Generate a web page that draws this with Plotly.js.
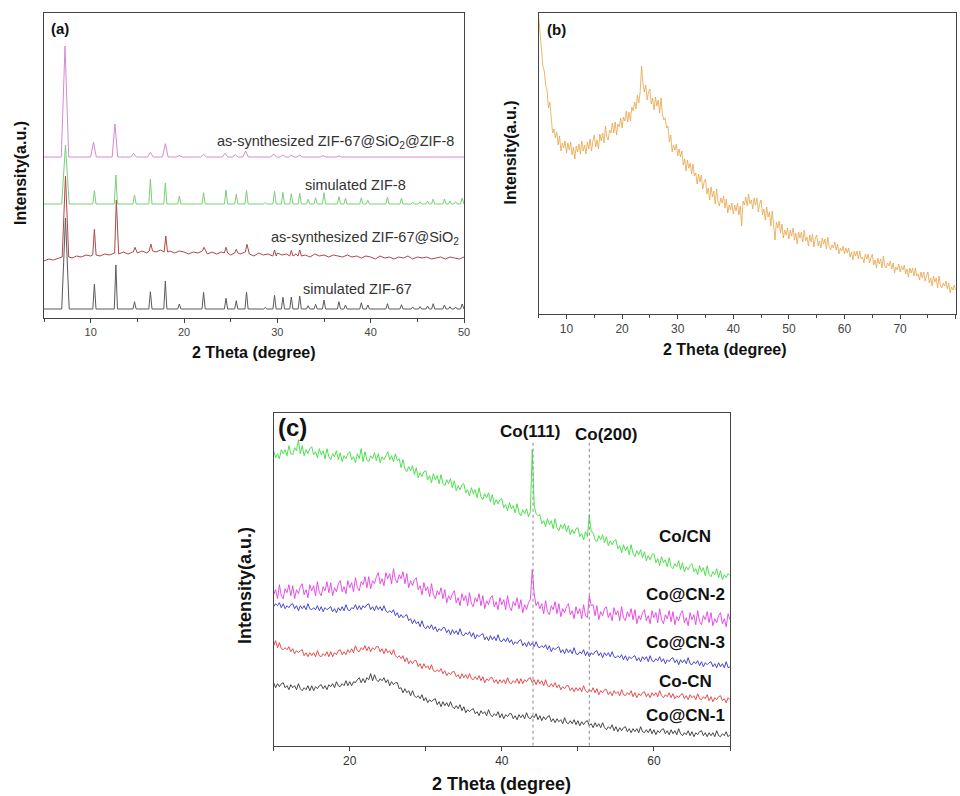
<!DOCTYPE html>
<html>
<head>
<meta charset="utf-8">
<script src="https://cdn.plot.ly/plotly-3.0.1.min.js"></script>
<style>html,body{margin:0;padding:0;background:#fff;}#chart{width:960px;height:796px;}</style>
</head>
<body>
<div id="chart"></div>
<script>
// ---------- Panel (a) data ----------
const aPeakPos = [7.3,10.4,12.7,14.7,16.4,18.0,19.5,22.1,24.5,25.6,26.7,28.7,29.7,30.6,31.5,32.4,33.3,34.1,35.0,36.6,37.3,39.0,39.7,41.8,43.3,44.5,45.3,46.1,46.7,47.9,48.5,49.1,49.8];
const zif67Base = 9;
const zif67Tops = [100,34,53,16.3,26.3,37,14,25.7,19.7,17.3,26,10.5,22.7,20.7,21,22,12.3,13.7,18,16.3,13,15.3,13,14.3,13.3,11,11.3,12,14.3,13,11.3,11,14];
const zif8Base = 114;
const zif8Tops = [173,127.3,143,123,138.7,135,122,125.3,128,123.7,127.7,115.5,126.7,125.7,124.3,124.7,118.7,120.3,125.3,121.3,119.7,120.3,117.7,121,119.7,116,116.3,117,119,119,117,116.3,120];
const shellBase = 161;
const shellPos = [7.25,10.3,12.6,14.6,16.4,18.0,19.5,22.1,24.4,25.5,26.6,29.6,30.6,31.5,32.4,34.9,36.6];
const shellTops = [272,176,194,164.7,165.7,174.3,162.5,163.7,164.7,163.3,167,164,163,162.7,163,162.3,162];
const sio2Start = 5, sio2Step = 0.5;
const sio2Base = [57,59,58,60,59,61,60,62,61,63,
  62,63,62,64,63,65,64,66,64,66,
  65,67,65,67,66,68,66,67,65,67,
  66,64,66,65,67,64,66,64,66,65,
  63,65,64,66,64,62,65,63,64,62,
  65,63,64,62,64,62,63,61,64,62,
  63,61,63,62,61,63,61,62,60,62,
  61,59,62,60,61,59,61,60,62,59,
  61,60,61,59,60,61,59,61,60,59,
  61];
const sio2PeakPos = [7.3,10.4,12.75,14.75,16.45,18.05,22.15,24.5,25.6,26.75,29.7,31.5,32.4];
const sio2Tops = [142,88.7,118,70.7,74,82,70.7,70.7,68.7,73.7,68,67.5,68];
const aLabels = ['as-synthesized ZIF-67@SiO<sub>2</sub>@ZIF-8','simulated ZIF-8','as-synthesized ZIF-67@SiO<sub>2</sub>','simulated ZIF-67'];

// ---------- Panel (b) data (5° to 80°, every 0.25°) ----------
const bStart = 5, bStep = 0.25;
const bValues = [297,280,267,248,243,229,224,206,212,192,181,185,176,182,169,178,163,171,166,173,
  161,171,164,172,159,167,155,168,162,170,160,173,163,169,160,172,165,175,163,173,
  179,167,174,165,180,173,181,171,188,177,174,184,181,191,181,192,179,190,187,196,
  186,197,193,203,192,202,193,207,203,212,205,219,211,222,248,230,222,229,214,222,
  225,210,216,204,217,208,214,201,216,200,194,196,186,188,172,179,162,169,164,170,
  158,165,157,163,149,155,143,154,146,151,140,150,138,141,130,140,132,139,125,132,
  135,120,126,114,127,117,123,110,125,112,108,116,111,118,106,115,101,109,104,111,
  100,109,103,111,99,108,88,113,109,117,108,120,110,114,105,116,109,116,102,110,
  114,99,105,94,107,97,102,88,103,89,74,92,86,93,81,90,76,84,79,86,
  75,84,78,86,74,81,70,82,76,82,72,84,73,77,68,79,72,80,67,76,
  79,68,73,66,76,70,75,65,77,67,64,69,66,72,64,70,60,66,63,68,
  60,66,61,66,57,62,54,63,58,63,55,63,55,57,51,60,55,60,51,56,
  60,49,54,46,56,50,55,46,58,48,46,51,48,53,45,51,41,47,44,50,
  42,48,44,49,40,45,37,46,41,46,38,46,38,40,34,42,36,42,33,38,
  42,31,36,28,38,32,36,26,38,28,26,31,28,33,25,31,21,27,24,29,
  24];

// ---------- Panel (c) data (10° to 70°, every 0.25°) ----------
const cStart = 10, cStep = 0.25;
const cNames = ['Co/CN','Co@CN-2','Co@CN-3','Co-CN','Co@CN-1'];
const coCN = [295,288,292,287,296,292,296,290,300,292,
  291,298,295,306,292,300,290,296,292,297,
  299,291,294,288,297,291,295,287,297,289,
  286,292,289,295,286,293,284,290,287,292,
  294,286,289,283,292,287,297,284,294,286,
  284,290,287,293,285,292,283,289,286,291,
  294,286,290,284,292,285,287,278,286,277,
  274,279,275,280,271,278,268,273,269,274,
  275,266,270,263,272,266,270,262,271,262,
  260,266,262,267,258,265,255,260,256,261,
  262,253,256,250,258,252,256,248,258,249,
  246,252,248,253,244,251,241,246,242,246,
  247,238,241,235,243,237,240,233,242,233,
  230,236,232,237,229,234,296,240,232,230,
  231,222,225,219,227,221,225,217,227,218,
  215,221,217,222,214,220,211,216,212,217,
  218,209,212,206,214,209,231,214,213,206,
  204,210,206,211,203,209,200,205,201,205,
  206,197,200,193,201,195,199,191,201,192,
  189,195,191,196,188,194,185,190,186,191,
  192,183,187,180,189,183,186,179,188,179,
  177,182,179,185,176,183,174,179,176,180,
  182,174,177,171,180,174,178,170,180,171,
  169,174,171,177,168,175,166,171,168,172,
  170];
const coAtCN2 = [151,156,147,161,150,147,157,153,161,150,
  160,147,156,152,159,162,151,156,148,161,
  155,160,150,164,153,150,159,155,164,153,
  163,150,158,154,162,165,154,159,152,165,
  158,163,154,168,158,155,164,161,169,158,
  169,157,165,162,169,173,162,167,160,173,
  167,172,162,177,166,163,171,167,174,162,
  172,158,165,160,166,168,156,160,151,163,
  155,159,149,162,151,147,155,151,158,147,
  156,143,150,146,152,155,143,148,140,152,
  145,150,140,153,142,139,148,144,152,140,
  150,137,145,141,148,150,139,144,136,148,
  141,146,136,150,139,135,144,140,148,137,
  146,133,141,136,143,146,176,152,140,144,
  137,142,132,145,134,131,140,136,144,132,
  142,129,137,133,139,142,131,135,127,139,
  132,137,127,141,130,128,150,140,141,130,
  140,126,134,130,137,139,128,133,125,138,
  131,135,125,139,128,125,134,129,137,126,
  136,122,130,126,133,136,125,130,122,135,
  128,133,123,137,126,122,131,127,135,124,
  134,121,129,125,132,135,123,128,120,133,
  126,131,121,135,124,121,130,126,134,123,
  133,120,127,123,130,133,122,127,119,132,
  126];
const coAtCN3 = [139,142,140,143,138,142,137,140,138,141,
  142,137,140,135,140,137,140,136,142,137,
  136,138,136,140,135,139,134,138,136,138,
  139,134,137,133,138,135,139,135,141,136,
  135,138,137,141,136,140,136,140,138,141,
  142,136,139,135,140,136,139,135,140,135,
  133,135,133,136,130,133,128,131,128,130,
  131,125,127,122,126,122,124,119,125,119,
  117,120,117,121,116,119,114,117,115,118,
  118,113,116,111,116,112,115,111,117,111,
  110,113,111,114,109,113,107,111,109,111,
  112,106,109,105,110,106,109,105,111,105,
  104,107,104,108,103,106,101,104,102,105,
  106,100,103,99,104,100,103,99,104,99,
  98,100,98,101,96,100,94,98,96,98,
  99,93,96,92,97,93,96,92,98,92,
  91,94,92,96,90,94,89,93,91,94,
  95,90,93,88,93,90,93,89,94,89,
  88,90,88,91,86,90,85,89,87,89,
  90,85,88,84,89,86,89,84,90,85,
  84,87,85,89,84,87,82,86,84,87,
  88,83,86,81,86,83,86,82,88,82,
  81,84,82,85,80,84,79,83,81,83,
  84,79,82,78,83,79,82,78,84,78,
  79];
const coDashCN = [100,105,98,103,97,96,98,96,99,94,
  97,92,95,93,95,96,90,93,89,93,
  90,93,89,95,90,89,92,90,94,89,
  94,89,93,91,95,96,91,94,91,96,
  93,97,93,100,95,94,98,96,100,95,
  99,94,98,96,99,99,94,97,92,97,
  93,95,91,96,90,88,90,87,90,84,
  88,82,85,82,85,85,79,82,77,82,
  78,80,76,81,75,74,76,74,77,72,
  75,70,73,71,74,74,69,71,67,72,
  68,71,67,72,67,66,69,66,70,65,
  69,63,67,65,68,68,63,66,62,66,
  63,66,62,68,63,62,65,63,67,62,
  67,62,66,64,67,68,63,66,61,66,
  62,65,60,66,60,59,62,59,63,58,
  61,56,59,57,60,60,55,58,54,58,
  55,58,54,60,55,53,56,54,58,53,
  57,51,55,53,56,56,51,54,50,55,
  52,54,50,56,51,50,53,51,55,49,
  53,48,52,50,53,54,49,52,48,53,
  50,53,49,55,50,48,51,49,53,48,
  52,47,50,48,51,52,47,50,46,51,
  48,50,46,52,47,46,49,47,51,45,
  49,44,48,46,49,50,45,47,43,48,
  46];
const coAtCN1 = [63,58,62,59,62,63,58,60,56,61,
  58,60,56,62,57,55,58,56,60,55,
  60,55,59,57,60,61,57,60,56,61,
  59,62,58,64,60,59,62,60,65,60,
  64,60,64,63,66,68,63,67,63,68,
  66,72,65,71,66,64,67,65,68,63,
  66,60,64,61,63,63,57,58,53,57,
  53,55,50,55,50,48,50,47,51,45,
  48,43,46,44,46,47,41,44,39,44,
  40,43,39,44,39,37,40,37,41,35,
  39,33,36,34,36,37,32,34,30,35,
  32,34,30,36,31,29,32,30,34,28,
  32,27,31,29,32,32,27,30,26,31,
  28,31,27,33,28,27,30,28,32,26,
  30,25,29,26,29,30,24,27,23,27,
  24,26,22,28,23,22,25,22,26,21,
  25,20,24,21,24,25,20,22,18,23,
  19,22,18,23,18,16,19,17,21,15,
  19,14,18,15,18,19,14,17,13,17,
  14,17,13,19,14,13,16,13,17,12,
  16,11,15,13,16,17,12,15,11,16,
  12,15,11,17,12,10,13,11,15,10,
  14,9,13,11,14,15,10,13,9,13,
  10,13,9,15,10,9,12,10,14,9,
  11];
const coRefPos = [44.1, 51.5];
const coRefLabels = ['Co(111)','Co(200)'];

// ---------- helpers ----------
function grid(start, step, vals){ return vals.map((v,i)=>+(start+i*step).toFixed(3)); }
function withPeaks(gx, gy, pos, tops, wFirst, w){
  const pts = [];
  gx.forEach((x,i)=>{ if(!pos.some((c,k)=>Math.abs(x-c) <= (k===0?wFirst:w))) pts.push([x,gy[i]]); });
  pos.forEach((c,k)=>{
    let j = 0;
    gx.forEach((x,i)=>{ if(Math.abs(x-c) < Math.abs(gx[j]-c)) j = i; });
    const b = gy[j], ww = (k===0?wFirst:w);
    pts.push([c-ww,b],[c,tops[k]],[c+ww,b]);
  });
  pts.sort((p,q)=>p[0]-q[0]);
  return {x:pts.map(p=>p[0]), y:pts.map(p=>p[1])};
}

const FONT = 'Liberation Sans, Arial, Helvetica, sans-serif';
const traces = [];
function lineTrace(d, color, xa, ya, width){
  return {x:d.x, y:d.y, type:'scatter', mode:'lines', xaxis:xa, yaxis:ya,
          line:{color:color, width:width||1}, hoverinfo:'skip', showlegend:false};
}
// Panel a
traces.push(lineTrace(withPeaks([5,50],[zif67Base,zif67Base],aPeakPos,zif67Tops,0.4,0.17),'#5a5a5a','x','y'));
const sio2X = grid(sio2Start, sio2Step, sio2Base);
traces.push(lineTrace(withPeaks(sio2X,sio2Base,sio2PeakPos,sio2Tops,0.35,0.18),'#b04848','x','y'));
traces.push(lineTrace(withPeaks([5,50],[zif8Base,zif8Base],aPeakPos,zif8Tops,0.4,0.17),'#78d078','x','y'));
traces.push(lineTrace(withPeaks([5,50],[shellBase,shellBase],shellPos,shellTops,0.4,0.3),'#d68ad6','x','y'));
// Panel b
traces.push(lineTrace({x:grid(bStart,bStep,bValues), y:bValues},'#e8a346','x2','y2',0.8));
// Panel c
const cX = grid(cStart, cStep, coCN);
const cSeries = [coCN, coAtCN2, coAtCN3, coDashCN, coAtCN1];
const cColors = ['#3ddc3d','#e23ee2','#3434c8','#e23a3a','#333333'];
cSeries.forEach((s,i)=>traces.push(lineTrace({x:cX, y:s}, cColors[i], 'x3','y3',0.9)));

const axisCommon = {showline:true, mirror:true, linecolor:'#444', linewidth:1, showgrid:false, zeroline:false};
const yCommon = Object.assign({}, axisCommon, {ticks:'', showticklabels:false});
function P(px){return px/960;} function Q(py){return 1-py/796;}

const ann = [];
function A(text, px, py, size, opts){
  ann.push(Object.assign({text:text, x:P(px), y:Q(py), xref:'paper', yref:'paper', showarrow:false,
    xanchor:'center', yanchor:'middle', font:{family:FONT, size:size, color:'#111'}}, opts||{}));
}
A('<b>(a)</b>', 49, 28.5, 15, {xanchor:'left'});
A('<b>(b)</b>', 545, 30, 15, {xanchor:'left'});
A('<b>(c)</b>', 276, 427, 24, {xanchor:'left'});
A('<b>2 Theta (degree)</b>', 254, 352, 16);
A('<b>Intensity(a.u.)</b>', 20, 173, 16, {textangle:-90});
A('<b>2 Theta (degree)</b>', 725, 350, 16);
A('<b>Intensity(a.u.)</b>', 510, 152.5, 16, {textangle:-90});
A('<b>2 Theta (degree)</b>', 501, 784, 18);
A('<b>Intensity(a.u.)</b>', 245, 585, 18, {textangle:-90});
A('<b>'+coRefLabels[0]+'</b>', 530, 431, 17);
A('<b>'+coRefLabels[1]+'</b>', 606, 434, 17);
const cLabelY = [536, 594, 642, 681.7, 715];
cNames.forEach((n,i)=>A('<b>'+n+'</b>', 685, cLabelY[i], 17));
const aLabelPos = [[335.5,142.3],[355.8,185],[364.5,238.3],[357.8,288.7]];
aLabels.forEach((t,i)=>A(t, aLabelPos[i][0], aLabelPos[i][1], 14.5, {font:{family:FONT,size:14.5,color:'#333'}}));

const shapes = coRefPos.map((x,i)=>({type:'line', xref:'x3', yref:'y3', x0:x, x1:x, y0:0, y1:[305.7,303.7][i],
  line:{color:'#8a8a8a', width:1, dash:'dot'}}));

const layout = {
  width:960, height:796, margin:{l:0,r:0,t:0,b:0}, paper_bgcolor:'#fff', plot_bgcolor:'#fff',
  showlegend:false, font:{family:FONT, color:'#333'},
  xaxis: Object.assign({}, axisCommon, {domain:[P(44),P(464)], anchor:'y', range:[5,50], tick0:0, dtick:10,
    ticks:'outside', ticklen:4, tickcolor:'#444', tickfont:{size:11, color:'#444', family:FONT},
    minor:{dtick:5, tick0:0, ticks:'outside', ticklen:3, tickcolor:'#444', showgrid:false}}),
  yaxis: Object.assign({}, yCommon, {domain:[Q(318),Q(13)], anchor:'x', range:[0,305]}),
  xaxis2: Object.assign({}, axisCommon, {domain:[P(538.7),P(955.7)], anchor:'y2', range:[5,80], tick0:0, dtick:10,
    ticks:'outside', ticklen:4, tickcolor:'#444', tickfont:{size:12, color:'#444', family:FONT},
    minor:{dtick:5, tick0:0, ticks:'outside', ticklen:3, tickcolor:'#444', showgrid:false}}),
  yaxis2: Object.assign({}, yCommon, {domain:[Q(314),Q(13)], anchor:'x2', range:[0,301]}),
  xaxis3: Object.assign({}, axisCommon, {domain:[P(273.7),P(730)], anchor:'y3', range:[10,70], tick0:0, dtick:20,
    ticks:'outside', ticklen:4, tickcolor:'#444', tickfont:{size:12, color:'#333', family:FONT},
    minor:{dtick:10, tick0:0, ticks:'outside', ticklen:4, tickcolor:'#444', showgrid:false}}),
  yaxis3: Object.assign({}, yCommon, {domain:[Q(745.7),Q(413.3)], anchor:'x3', range:[0,332.4]}),
  annotations: ann,
  shapes: shapes
};
Plotly.newPlot('chart', traces, layout, {staticPlot:true, displayModeBar:false});
</script>
</body>
</html>
